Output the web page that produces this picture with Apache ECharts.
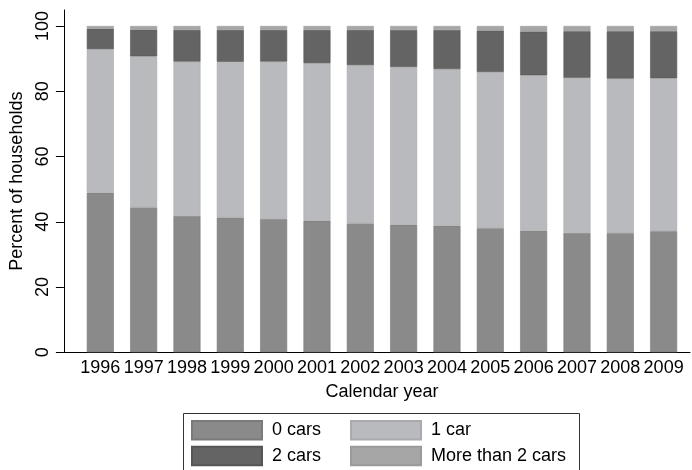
<!DOCTYPE html>
<html>
<head>
<meta charset="utf-8">
<script src="https://cdn.jsdelivr.net/npm/echarts@6/dist/echarts.min.js"></script>
<style>html,body{margin:0;padding:0;background:#fff}#c{width:692px;height:470px}</style>
</head>
<body>
<div id="c"></div>
<script>
var years = ['1996','1997','1998','1999','2000','2001','2002','2003','2004','2005','2006','2007','2008','2009'];
var zeroCars = [48.9,44.4,41.8,41.3,40.9,40.3,39.5,39.1,38.8,38.0,37.3,36.6,36.5,37.1];
var oneCar   = [44.0,46.3,47.3,47.7,48.2,48.3,48.5,48.3,48.0,47.9,47.6,47.5,47.4,46.9];
var twoCars  = [6.3,8.2,9.7,9.8,9.7,10.2,10.8,11.4,12.0,12.7,13.4,14.3,14.5,14.4];
var moreCars = [0.8,1.1,1.2,1.2,1.2,1.2,1.2,1.2,1.2,1.4,1.7,1.6,1.6,1.6];
var yTicks = [0,20,40,60,80,100];

var FONT = 'Liberation Sans, Arial, sans-serif';
var FS = 18;
var chart = echarts.init(document.getElementById('c'), null, {renderer:'canvas'});
var YMAX = 104.9;
function bar(name, data, color, border){
  return {name:name, type:'bar', stack:'a', data:data, xAxisIndex:1, yAxisIndex:1,
    barWidth:27, itemStyle:{color:color, borderColor:border, borderWidth:0.6}};
}
var legendCommon = {
  icon:'rect', itemWidth:70, itemHeight:18.5, itemGap:29, padding:0, orient:'horizontal',
  textStyle:{fontFamily:FONT, fontSize:FS, color:'#000', padding:[0,0,0,5]}
};
chart.setOption({
  animation:false,
  backgroundColor:'#fff',
  grid:[
    {left:63, right:2, top:10, bottom:117.7},
    {left:78.65, right:6.7, top:10, bottom:117.7}
  ],
  xAxis:[
    {gridIndex:0, type:'value', min:0, max:1, axisLine:{show:true, lineStyle:{color:'#000', width:1}},
     axisTick:{show:false}, axisLabel:{show:false}, splitLine:{show:false}},
    {gridIndex:1, type:'category', data:years, axisLine:{show:false}, axisTick:{show:false},
     axisLabel:{fontFamily:FONT, fontSize:FS, color:'#000', margin:7, interval:0},
     name:'Calendar year', nameLocation:'middle', nameGap:31,
     nameTextStyle:{fontFamily:FONT, fontSize:FS, color:'#000'}}
  ],
  yAxis:[
    {gridIndex:0, type:'value', min:0, max:YMAX,
     axisLine:{show:true, lineStyle:{color:'#000', width:1}},
     axisTick:{show:true, length:8, customValues:yTicks, lineStyle:{color:'#000'}},
     axisLabel:{rotate:90, fontFamily:FONT, fontSize:FS, color:'#000', margin:12, customValues:yTicks},
     splitLine:{show:false},
     name:'Percent of households', nameLocation:'middle', nameGap:30,
     nameTextStyle:{fontFamily:FONT, fontSize:FS, color:'#000'}},
    {gridIndex:1, type:'value', min:0, max:YMAX, show:false, splitLine:{show:false}}
  ],
  legend:[
    Object.assign({}, legendCommon, {left:191, top:420, data:['0 cars','1 car']}),
    Object.assign({}, legendCommon, {left:191, top:445.7, data:['2 cars','More than 2 cars']})
  ],
  graphic:[
    {type:'rect', shape:{x:183.5, y:413.5, width:396, height:80}, style:{fill:'none', stroke:'#333', lineWidth:1}, silent:true}
  ],
  series:[
    bar('0 cars', zeroCars, '#8a8a8a', '#7a7a7a'),
    bar('1 car', oneCar, '#b9babd', '#a9aaad'),
    bar('2 cars', twoCars, '#646464', '#555555'),
    bar('More than 2 cars', moreCars, '#a6a6a6', '#9a9a9a')
  ]
});
</script>
</body>
</html>
